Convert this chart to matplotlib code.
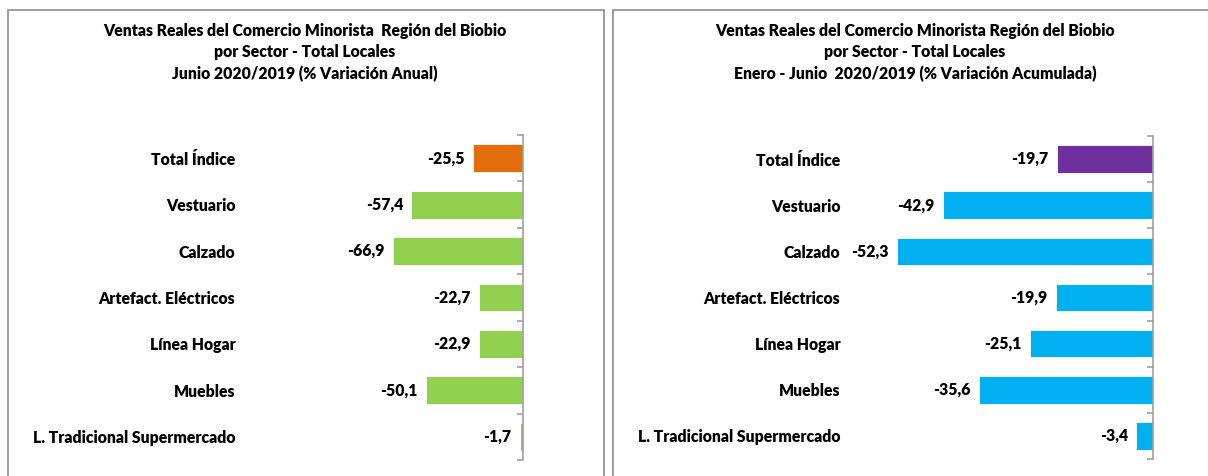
import matplotlib
matplotlib.use('Agg')
import matplotlib.pyplot as plt
from matplotlib.patches import Rectangle

plt.rcParams['font.family'] = ['Lato', 'DejaVu Sans']
plt.rcParams['font.weight'] = 'heavy'

categorias = ['Total Índice', 'Vestuario', 'Calzado', 'Artefact. Eléctricos',
              'Línea Hogar', 'Muebles', 'L. Tradicional Supermercado']
anual = [-25.5, -57.4, -66.9, -22.7, -22.9, -50.1, -1.7]
acumulada = [-19.7, -42.9, -52.3, -19.9, -25.1, -35.6, -3.4]

titulo_anual = ('Ventas Reales del Comercio Minorista  Región del Biobio\n'
                'por Sector - Total Locales\n'
                'Junio 2020/2019 (% Variación Anual)')
titulo_acum = ('Ventas Reales del Comercio Minorista Región del Biobio\n'
               'por Sector - Total Locales\n'
               'Enero - Junio  2020/2019 (% Variación Acumulada)')

W, H = 1208, 476
fs = 11.3
fig = plt.figure(figsize=(W / 100, H / 100), dpi=100)
fig.patch.set_facecolor('white')

# panel borders
for x0, x1 in [(8, 604), (613, 1215)]:
    fig.patches.append(Rectangle((x0 / W, -0.1), (x1 - x0) / W, (H - 10) / H + 0.1,
                                 transform=fig.transFigure, fill=False,
                                 edgecolor='#8c8c8c', linewidth=1.2))


def panel(rect, valores, xmin, color_total, color_resto):
    ax = fig.add_axes(rect)
    y = list(range(len(categorias)))
    colores = [color_total] + [color_resto] * (len(categorias) - 1)
    ax.barh(y, valores, height=0.6, color=colores, edgecolor='white', linewidth=0.6)
    ax.set_xlim(xmin, 0)
    ax.set_ylim(len(categorias) - 0.5, -0.5)
    for sp in ['top', 'bottom', 'left']:
        ax.spines[sp].set_visible(False)
    ax.spines['right'].set_color('#a0a0a0')
    ax.spines['right'].set_linewidth(1.2)
    ax.set_xticks([])
    ax.set_yticks(y)
    ax.set_yticklabels(categorias, fontsize=fs, fontweight='heavy')
    ax.tick_params(axis='y', which='major', length=0, pad=7)
    ax.set_yticks([i - 0.5 for i in range(len(categorias) + 1)], minor=True)
    ax.tick_params(axis='y', which='minor', left=False, right=True, direction='in',
                   length=4, color='#a0a0a0', width=1.2)
    for yi, v in zip(y, valores):
        ax.annotate(f'{v:.1f}'.replace('.', ','), (v, yi), xytext=(-6, 0),
                    textcoords='offset points', ha='right', va='center',
                    fontsize=fs, fontweight='heavy')
    return ax


panel([245 / W, 16 / H, 278 / W, 325 / H], anual, -(523 - 245) / 1.943, '#E46C0A', '#92D050')
panel([850 / W, 17 / H, 303 / W, 323 / H], acumulada, -(1153 - 850) / 4.895, '#7030A0', '#00B0F0')

fig.text(305 / W, 1 - 23 / H, titulo_anual, ha='center', va='top', fontsize=fs,
         fontweight='heavy', linespacing=1.4)
fig.text(915 / W, 1 - 23 / H, titulo_acum, ha='center', va='top', fontsize=fs,
         fontweight='heavy', linespacing=1.4)

fig.savefig('out.png', dpi=100)
